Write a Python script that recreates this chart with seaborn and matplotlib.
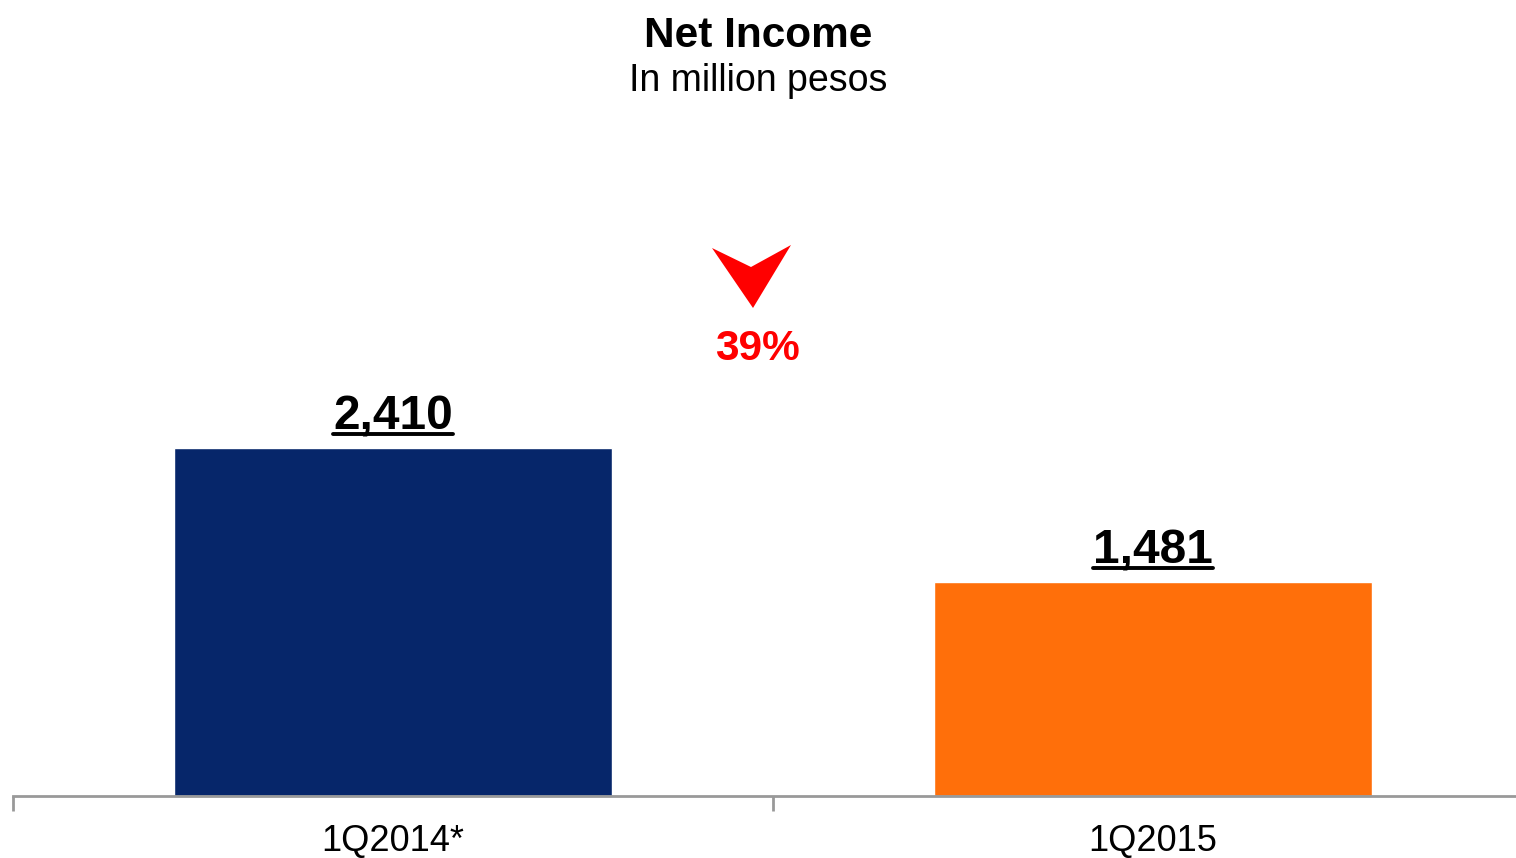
import matplotlib
matplotlib.use("Agg")
import matplotlib.pyplot as plt
import seaborn as sns
import pandas as pd
from matplotlib.lines import Line2D
from matplotlib.patches import Polygon

categories = ["1Q2014*", "1Q2015"]
values = [2410, 1481]
bar_colors = ["#06266A", "#FF6F0A"]
change_label = "39%"
title = "Net Income"
subtitle = "In million pesos"

sns.set_theme(style="white")
plt.rcParams['font.family'] = ['Liberation Sans', 'DejaVu Sans']
plt.rcParams['text.color'] = 'black'

W, H = 1516, 858
fig = plt.figure(figsize=(W / 100, H / 100), dpi=100)
ax_left = 13 / W
ax_w = 1520 / W
ax_bottom = (H - 796) / H
ax_h = 796 / H
ax = fig.add_axes([ax_left, ax_bottom, ax_w, ax_h])

df = pd.DataFrame({"cat": categories, "val": values})
sns.barplot(data=df, x="cat", y="val", hue="cat", palette=bar_colors,
            width=0.576, legend=False, ax=ax, saturation=1)

ax.set_xlim(-0.5, 1.5)
ax.set_ylim(0, 796 / (348 / 2410))
ax.set_xlabel("")
ax.set_ylabel("")
ax.set_yticks([])
for s in ["top", "right", "left"]:
    ax.spines[s].set_visible(False)
ax.spines["bottom"].set_color("#999999")
ax.spines["bottom"].set_linewidth(2)
ax.set_xticks(range(len(categories)))
ax.set_xticklabels(categories, fontsize=26, color="black")
ax.tick_params(axis="x", which="major", length=0, pad=20)
ax.set_xticks([-0.5, 0.5, 1.5], minor=True)
ax.tick_params(axis="x", which="minor", length=11, width=2, color="#999999", bottom=True)

# value labels
texts = []
for i, v in enumerate(values):
    t = ax.annotate(f"{v:,}", (i, v), xytext=(0, 9), textcoords="offset pixels",
                    ha="center", va="bottom", fontsize=34.5, fontweight="bold", color="black")
    texts.append(t)

# titles
fig.text(0.5, 1 - 47 / H, title, ha="center", va="baseline", fontsize=30.5,
         fontweight="bold", color="black")
fig.text(0.5, 1 - 91 / H, subtitle, ha="center", va="baseline", fontsize=27, color="black")

# change indicator
fig.text(757 / W, 1 - 360 / H, change_label, ha="center", va="baseline",
         fontsize=30.5, fontweight="bold", color="#FF0000")
pts = [(712, 248), (751, 267), (791, 245), (753, 308)]
arrow = Polygon([(x / W, 1 - y / H) for x, y in pts], closed=True,
                transform=fig.transFigure, facecolor="#FF0000", edgecolor="none")
fig.patches.append(arrow)

# underline value labels
fig.canvas.draw()
r = fig.canvas.get_renderer()
for t in texts:
    bb = t.get_window_extent(r)
    y = bb.y0 + 5
    fig.add_artist(Line2D([bb.x0 / W, bb.x1 / W], [y / H, y / H],
                          transform=fig.transFigure, color="black", linewidth=2.8))

fig.savefig("out.png", dpi=100)
